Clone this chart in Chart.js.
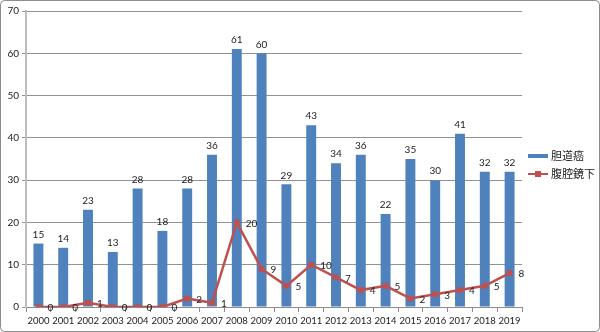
<!DOCTYPE html>
<html>
<head>
<meta charset="utf-8">
<script src="https://cdn.jsdelivr.net/npm/chart.js@4"></script>
<style>
  html, body { margin: 0; padding: 0; background: #fff; }
  #wrap { position: relative; width: 600px; height: 332px; }
  #chart { position: absolute; left: 0; top: 0; }
</style>
</head>
<body>
<div id="wrap"><canvas id="chart" width="600" height="332"></canvas></div>
<script>
// 年別症例数
const years = ["2000","2001","2002","2003","2004","2005","2006","2007","2008","2009",
               "2010","2011","2012","2013","2014","2015","2016","2017","2018","2019"];
const biliary = [15,14,23,13,28,18,28,36,61,60,29,43,34,36,22,35,30,41,32,32];
const laparo  = [0,0,1,0,0,0,2,1,20,9,5,10,7,4,5,2,3,4,5,8];
const seriesNames = ["胆道癌", "腹腔鏡下"];
const yTicks = [0,10,20,30,40,50,60,70];

const BLUE = "#4F81BD";
const RED = "#C0504D";
const FONT = "Lato, 'Noto Sans', sans-serif";

// 外枠・値ラベル・凡例
const decor = {
  id: "decor",
  beforeDraw(chart) {
    const c = chart.ctx;
    c.save();
    c.fillStyle = "#fff";
    c.fillRect(0, 0, chart.width, chart.height);
    c.strokeStyle = "#8c8c8c";
    c.lineWidth = 1;
    c.beginPath();
    c.roundRect(0.5, 0.5, chart.width - 1, chart.height - 1, 4);
    c.stroke();
    c.restore();
  },
  afterDatasetsDraw(chart) {
    const c = chart.ctx;
    c.save();
    c.fillStyle = "#222";
    c.font = "10px " + FONT;
    // 棒の値
    c.textAlign = "center";
    c.textBaseline = "bottom";
    chart.getDatasetMeta(0).data.forEach((el, i) => {
      c.fillText(String(biliary[i]), el.x, el.y - 4);
    });
    // 折れ線の値（右側）
    c.textAlign = "left";
    c.textBaseline = "middle";
    chart.getDatasetMeta(1).data.forEach((el, i) => {
      c.fillText(String(laparo[i]), el.x + 9, el.y + 1);
    });

    // 凡例
    const lx = 528, ly1 = 156, ly2 = 174;
    c.fillStyle = BLUE;
    c.fillRect(lx, ly1 - 2, 20, 4);
    c.strokeStyle = RED;
    c.lineWidth = 2;
    c.beginPath();
    c.moveTo(lx, ly2);
    c.lineTo(lx + 20, ly2);
    c.stroke();
    c.fillStyle = RED;
    c.fillRect(lx + 7, ly2 - 3, 6, 6);
    c.fillStyle = "#222";
    c.font = "11px 'Noto Sans CJK JP', sans-serif";
    c.fillText(seriesNames[0], lx + 23, ly1);
    c.fillText(seriesNames[1], lx + 23, ly2);
    c.restore();
  }
};

new Chart(document.getElementById("chart"), {
  type: "bar",
  data: {
    labels: years,
    datasets: [
      {
        label: seriesNames[0],
        data: biliary,
        backgroundColor: BLUE,
        barPercentage: 0.8,
        categoryPercentage: 0.5,
        order: 2
      },
      {
        type: "line",
        label: seriesNames[1],
        data: laparo,
        borderColor: RED,
        backgroundColor: RED,
        borderWidth: 2.5,
        pointStyle: "rect",
        pointRadius: 4,
        pointBorderWidth: 0,
        tension: 0,
        order: 1
      }
    ]
  },
  options: {
    responsive: false,
    animation: false,
    layout: { padding: { top: 11, right: 78, left: 0, bottom: 0 } },
    plugins: { legend: { display: false }, tooltip: { enabled: false } },
    scales: {
      x: {
        afterFit(s) { s.height = 25; },
        grid: { offset: true, drawOnChartArea: false, drawTicks: true, tickLength: 5, color: "#8c8c8c" },
        border: { color: "#8c8c8c", width: 1 },
        ticks: { color: "#222", font: { size: 9.5, family: FONT }, maxRotation: 0, autoSkip: false, padding: 3 }
      },
      y: {
        min: 0,
        max: 70,
        afterFit(s) { s.width = 26; },
        afterBuildTicks(s) { s.ticks = yTicks.map(v => ({ value: v })); },
        grid: { color: "#929292", tickLength: 4 },
        border: { color: "#bdbdbd", width: 2 },
        ticks: { color: "#222", font: { size: 10, family: FONT }, padding: 3 }
      }
    }
  },
  plugins: [decor]
});
</script>
</body>
</html>
